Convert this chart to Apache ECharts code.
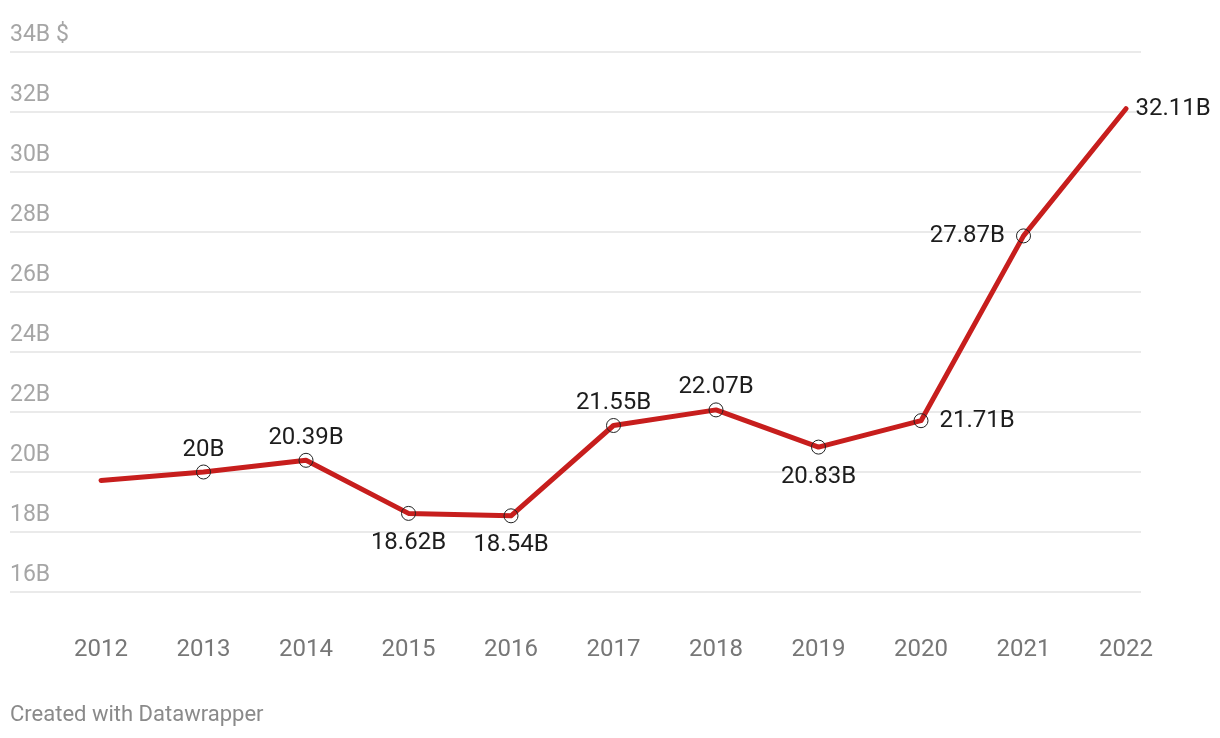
<!DOCTYPE html>
<html><head><meta charset="utf-8">
<script src="https://cdn.jsdelivr.net/npm/echarts@6/dist/echarts.min.js"></script>
<style>html,body{margin:0;padding:0;background:#fff}#c{width:1220px;height:738px}</style>
</head><body><div id="c"></div>
<script>
var years = ['2012','2013','2014','2015','2016','2017','2018','2019','2020','2021','2022'];
var values = [19.72, 20, 20.39, 18.62, 18.54, 21.55, 22.07, 20.83, 21.71, 27.87, 32.11];
var labelTexts = ['', '20B', '20.39B', '18.62B', '18.54B', '21.55B', '22.07B', '20.83B', '21.71B', '27.87B', '32.11B'];
var labelPositions = ['none', 'top', 'top', 'bottom', 'bottom', 'top', 'top', 'bottom', 'right', 'left', 'right'];
var yTicks = [16, 18, 20, 22, 24, 26, 28, 30, 32, 34];
var footer = 'Created with Datawrapper';

var FONT = 'Roboto';
var distances = {top: 3, bottom: 10, left: 11, right: 11};
var seriesData = values.map(function (v, i) {
  var pos = labelPositions[i];
  var item = { value: v };
  if (pos === 'none') {
    item.label = { show: false };
    item.itemStyle = { borderColor: 'transparent' };
  } else {
    item.label = { show: true, position: pos, distance: distances[pos], formatter: labelTexts[i] };
  }
  if (i === values.length - 1) {
    item.itemStyle = { borderColor: 'transparent' };
    item.label.distance = 2;
  }
  return item;
});

var chart = echarts.init(document.getElementById('c'), null, { renderer: 'canvas' });
chart.setOption({
  animation: false,
  backgroundColor: '#fff',
  textStyle: { fontFamily: FONT },
  title: {
    text: footer, left: 10, top: 704, padding: 0,
    textStyle: { fontFamily: FONT, fontSize: 22, fontWeight: 'normal', color: '#8a8a8a' }
  },
  grid: [
    { left: 10, right: 79, top: 52, bottom: 146 },
    { left: 101, right: 94, top: 52, bottom: 146 }
  ],
  xAxis: [
    { gridIndex: 0, type: 'value', min: 0, max: 1, show: false },
    { gridIndex: 1, type: 'category', data: years, boundaryGap: false,
      axisLine: { show: false }, axisTick: { show: false }, splitLine: { show: false },
      axisLabel: { margin: 46, fontSize: 24, color: '#777', fontFamily: FONT } }
  ],
  yAxis: [
    { gridIndex: 0, type: 'value', min: 16, max: 34, interval: 2,
      axisLine: { show: false }, axisTick: { show: false },
      splitLine: { show: true, lineStyle: { color: '#e3e3e3', width: 1.5 } },
      axisLabel: { inside: true, margin: 0, fontSize: 23, color: '#a6a6a6', fontFamily: FONT,
        align: 'left', verticalAlign: 'bottom', lineHeight: 34,
        formatter: function (v) { return v === 34 ? '34B $' : v + 'B'; } } },
    { gridIndex: 1, type: 'value', min: 16, max: 34, interval: 2, show: false,
      splitLine: { show: false } }
  ],
  series: [{
    type: 'line',
    xAxisIndex: 1, yAxisIndex: 1,
    data: seriesData,
    symbol: 'circle',
    symbolSize: 14,
    showAllSymbol: true,
    lineStyle: { color: '#c71e1d', width: 5, cap: 'round', join: 'round' },
    itemStyle: { color: 'transparent', borderColor: '#222', borderWidth: 1 },
    label: { fontSize: 24, color: '#1d1d1d', fontFamily: FONT },
    emphasis: { disabled: true },
    z: 3
  }]
});
</script>
</body></html>
